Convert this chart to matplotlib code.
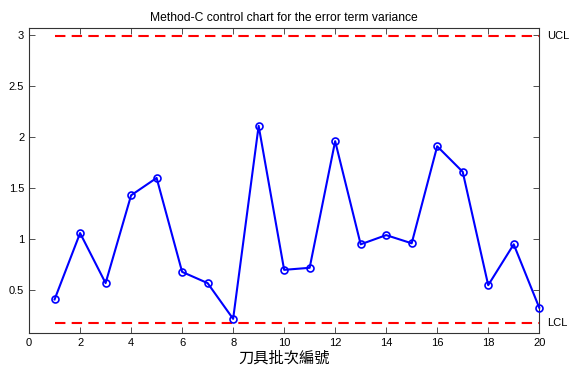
import numpy as np
import matplotlib
matplotlib.use("Agg")
import matplotlib.pyplot as plt

plt.rcParams['font.family'] = ['Liberation Sans', 'Noto Sans CJK TC', 'DejaVu Sans']

# variance statistic for each tool batch
batch = np.arange(1, 21)
variance = [0.41, 1.06, 0.57, 1.43, 1.60, 0.68, 0.57, 0.22, 2.11, 0.70,
            0.72, 1.96, 0.95, 1.04, 0.96, 1.91, 1.66, 0.55, 0.95, 0.33]
ucl = 2.99
lcl = 0.18

fig = plt.figure(figsize=(5.7, 3.71), dpi=100)
ax = fig.add_axes([0.051, 0.102, 0.895, 0.823])

ax.plot(batch, variance, '-o', color='blue', lw=1.5, ms=5, mfc='none', mew=1.2,
        clip_on=False, zorder=3)
ax.plot([batch[0], batch[-1]], [ucl, ucl], '--', color='red', lw=1.5, dashes=(5, 3))
ax.plot([batch[0], batch[-1]], [lcl, lcl], '--', color='red', lw=1.5, dashes=(5, 3))

ax.text(20.3, ucl, 'UCL', va='center', ha='left', fontsize=8)
ax.text(20.3, lcl, 'LCL', va='center', ha='left', fontsize=8)

ax.set_xlim(0, 20)
ax.set_ylim(0.08, 3.07)
ax.set_xticks(np.arange(0, 21, 2))
ax.set_yticks([0.5, 1, 1.5, 2, 2.5, 3])
ax.set_yticklabels(['0.5', '1', '1.5', '2', '2.5', '3'])
ax.tick_params(direction='in', top=True, right=True, labelsize=8, length=4, width=0.6,
               color='#333333')
for s in ax.spines.values():
    s.set_linewidth(0.8)
    s.set_color('#333333')

ax.set_title('Method-C control chart for the error term variance', fontsize=8.7, pad=5)
ax.set_xlabel('刀具批次編號', fontsize=11, family=['Noto Sans CJK TC', 'DejaVu Sans'], labelpad=1)

fig.savefig('out.png', dpi=100)
